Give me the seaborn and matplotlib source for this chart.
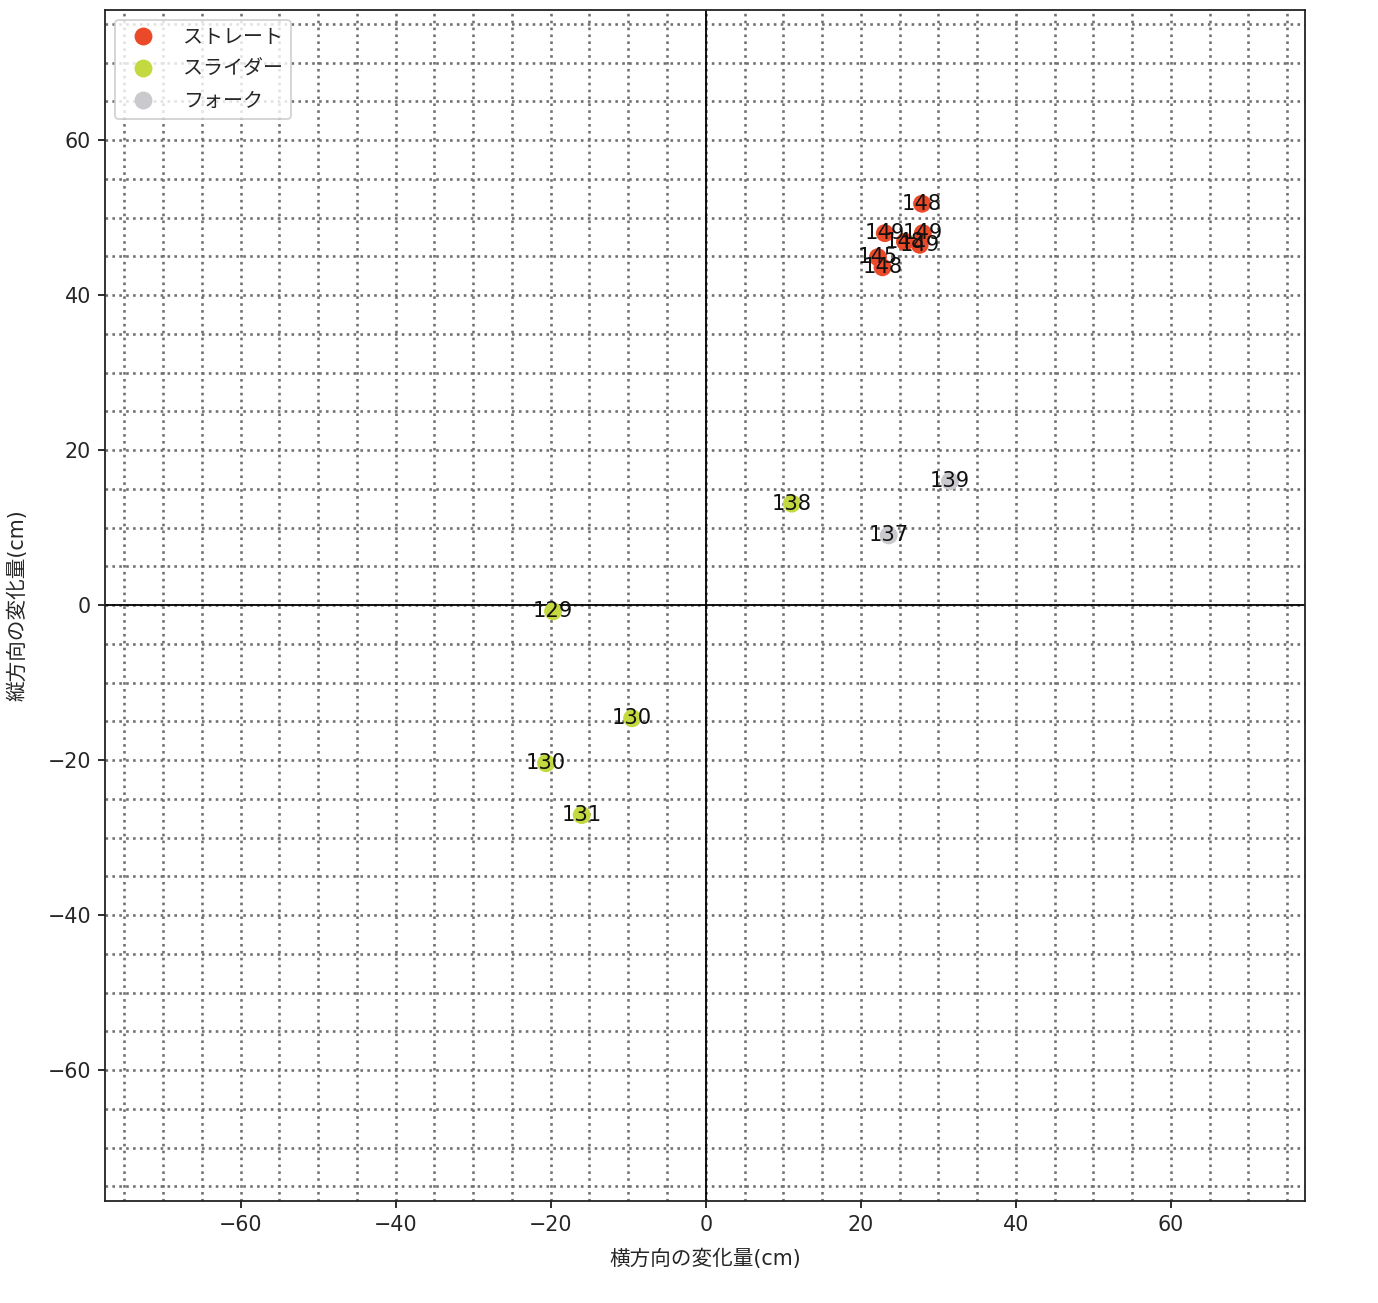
import matplotlib
matplotlib.use("Agg")
import matplotlib.pyplot as plt
from matplotlib.ticker import MultipleLocator
import seaborn as sns
import pandas as pd

pitch_types = ["ストレート", "ストレート", "ストレート", "ストレート", "ストレート", "ストレート", "ストレート",
               "スライダー", "スライダー", "スライダー", "スライダー", "スライダー",
               "フォーク", "フォーク"]
horizontal_cm = [27.9, 23.1, 28.0, 25.7, 27.6, 22.2, 22.8,
                 11.1, -19.7, -9.5, -20.6, -16.0,
                 31.5, 23.6]
vertical_cm = [51.8, 48.0, 48.0, 46.9, 46.5, 44.9, 43.6,
               13.1, -0.8, -14.6, -20.4, -27.1,
               16.0, 9.0]
speeds = [148, 149, 149, 148, 149, 145, 148,
          138, 129, 130, 130, 131,
          139, 137]

hue_order = ["ストレート", "スライダー", "フォーク"]
colors = ["#EB4A29", "#C3D93F", "#CACACE"]

df = pd.DataFrame({"type": pitch_types, "x": horizontal_cm, "y": vertical_cm, "speed": speeds})

sns.set_style("white")
plt.rcParams["font.family"] = ["DejaVu Sans", "Noto Sans CJK JP"]

fig = plt.figure(figsize=(1378 / 144, 1303 / 144), dpi=144)
ax = fig.add_axes([105 / 1378, 1 - 1201 / 1303, 1200 / 1378, 1191 / 1303])

sns.scatterplot(data=df, x="x", y="y", hue="type", hue_order=hue_order,
                palette=colors, s=80, edgecolor="none", ax=ax, zorder=3)

for xv, yv, sp in zip(df["x"], df["y"], df["speed"]):
    ax.text(xv, yv, str(sp), ha="center", va="center", fontsize=10.5, color="#111111", zorder=4)

ax.set_xlim(-77.5, 77.3)
ax.set_ylim(-76.9, 76.8)
ax.xaxis.set_major_locator(MultipleLocator(20))
ax.yaxis.set_major_locator(MultipleLocator(20))
ax.xaxis.set_minor_locator(MultipleLocator(5))
ax.yaxis.set_minor_locator(MultipleLocator(5))
ax.tick_params(which="minor", length=0)
ax.tick_params(which="major", length=3.5, width=0.8, labelsize=10.3, color="black", bottom=True, left=True)
ax.grid(which="both", linestyle=":", color="#707070", linewidth=1.3)
ax.set_axisbelow(True)
ax.axhline(0, color="black", linewidth=0.9, zorder=2)
ax.axvline(0, color="black", linewidth=0.9, zorder=2)
for sp in ax.spines.values():
    sp.set_color("#222222")
    sp.set_linewidth(0.9)

ax.set_xlabel("横方向の変化量(cm)", fontsize=10.3, labelpad=7)
ax.set_ylabel("縦方向の変化量(cm)", fontsize=10.3, labelpad=10)

leg = ax.legend(loc="upper left", title=None, fontsize=10, framealpha=0.8,
                labelspacing=0.65, handletextpad=1.0)

fig.savefig("out.png", dpi=144)
